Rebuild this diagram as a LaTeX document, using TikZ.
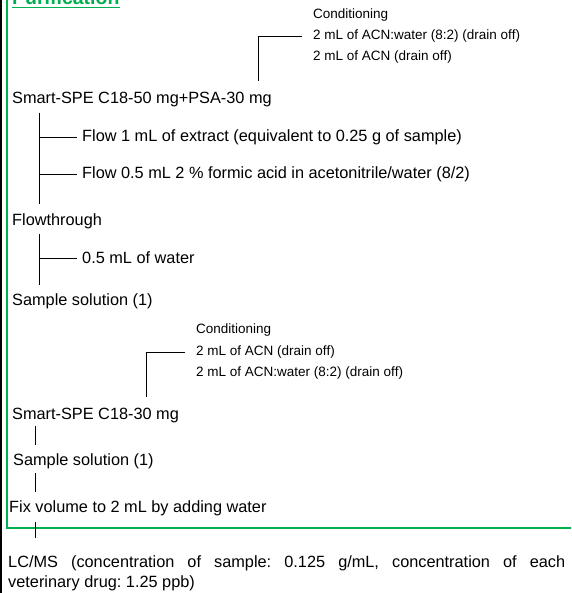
\documentclass[tikz,border=0pt]{standalone}
\usepackage{fontspec}
\setmainfont{Liberation Sans}
\frenchspacing
\definecolor{xlgreen}{RGB}{0,176,80}
\begin{document}
\begin{tikzpicture}[x=1pt,y=-1pt,
  main/.style={anchor=west,inner sep=0pt,font=\fontsize{16.3}{19}\selectfont},
  small/.style={anchor=west,inner sep=0pt,font=\fontsize{13.5}{16}\selectfont},
  link/.style={draw=black,line width=0.9pt}]
\useasboundingbox (0,0) rectangle (571,593);
\clip (0,0) rectangle (571,593);
% frame lines
\draw[line width=1.6pt] (1,0) -- (1,593);
\draw[xlgreen,line width=2pt] (7,-2) -- (7,528) -- (573,528);
% title
\node[anchor=base west,inner sep=0pt,text=xlgreen,font=\fontsize{19.5}{22}\selectfont\bfseries] (title) at (12,4.5) {Purification};
\draw[xlgreen,line width=1.5pt] (title.base west) ++(0,3) -- ([yshift=-3pt]title.base east);
% first conditioning
\node[small] (c1a) at (313,15) {Conditioning};
\node[small] (c1b) at (313,36) {2 mL of ACN:water (8:2) (drain off)};
\node[small] (c1c) at (313,57) {2 mL of ACN (drain off)};
\coordinate (k1) at (258,81);
\draw[link] ([xshift=-11pt]c1b.west) -| (k1);
% first cartridge
\node[main] (s1) at (12,100) {Smart-SPE C18-50 mg+PSA-30 mg};
\node[main] (f1) at (82,137) {Flow 1 mL of extract (equivalent to 0.25 g of sample)};
\node[main] (f2) at (82,174) {Flow 0.5 mL 2 \% formic acid in acetonitrile/water (8/2)};
\coordinate (t1) at (39,113);
\coordinate (b1) at (39,204);
\draw[link] (t1) -- (b1);
\draw[link] (f1.west -| t1) -- ([xshift=-5pt]f1.west);
\draw[link] (f2.west -| t1) -- ([xshift=-5pt]f2.west);
\node[main] (ft) at (12,221) {Flowthrough};
\node[main] (w1) at (82,258) {0.5 mL of water};
\coordinate (t2) at (39,234);
\coordinate (b2) at (39,285);
\draw[link] (t2) -- (b2);
\draw[link] (w1.west -| t2) -- ([xshift=-5pt]w1.west);
\node[main] (ss1) at (12,301) {Sample solution (1)};
% second conditioning
\node[small] (c2a) at (196,330) {Conditioning};
\node[small] (c2b) at (196,352) {2 mL of ACN (drain off)};
\node[small] (c2c) at (196,373) {2 mL of ACN:water (8:2) (drain off)};
\coordinate (k2) at (146,397);
\draw[link] ([xshift=-11pt]c2b.west) -| (k2);
% second cartridge
\node[main] (s2) at (12,415) {Smart-SPE C18-30 mg};
\node[main] (ss2) at (13,461) {Sample solution (1)};
\node[main] (fv) at (9,508) {Fix volume to 2 mL by adding water};
\coordinate (t3) at (35,426); \coordinate (b3) at (35,445);
\coordinate (t4) at (35,473); \coordinate (b4) at (35,492);
\coordinate (t5) at (35,522); \coordinate (b5) at (35,538);
\draw[link] (t3) -- (b3);
\draw[link] (t4) -- (b4);
\draw[link] (t5) -- (b5);
% LC/MS
\node[main] (lc) at (8,563)
  {\makebox[557pt][s]{LC/MS (concentration of sample: 0.125 g/mL, concentration of each}};
\node[main] (lc2) at (8,583) {veterinary drug: 1.25 ppb)};
\end{tikzpicture}
\end{document}
